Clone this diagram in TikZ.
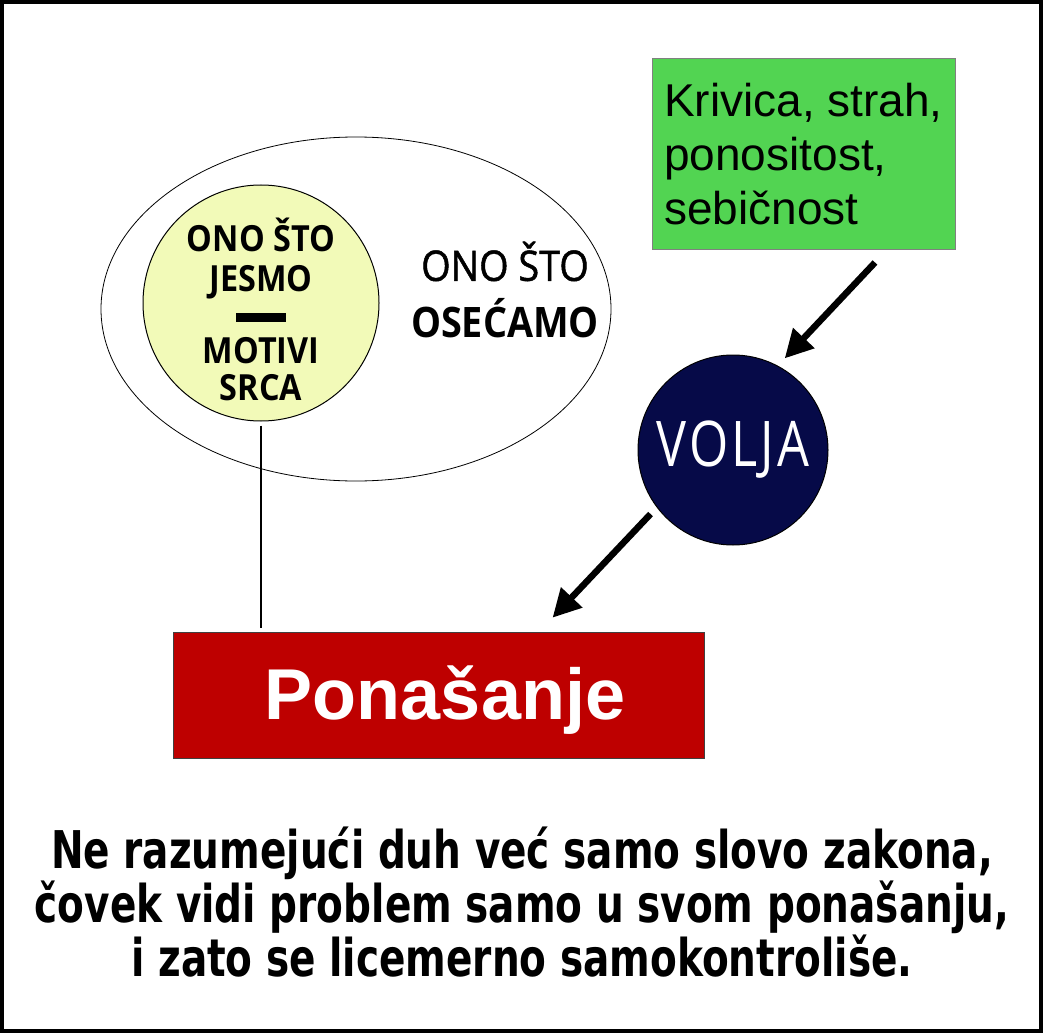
\documentclass[tikz,border=0pt]{standalone}
\usepackage{fontspec}
\setmainfont{Liberation Sans}
\newfontfamily\myriad[FakeStretch=0.9]{Open Sans}
\newfontfamily\myriadsemi[FakeStretch=0.9,FakeBold=1.2]{Open Sans}
\newfontfamily\myriadvolja[FakeStretch=0.8,LetterSpace=5]{Open Sans}
\newfontfamily\tahoma[FakeStretch=0.75]{DejaVu Sans}
\usetikzlibrary{shapes.geometric,arrows.meta}

\definecolor{zelena}{RGB}{82,212,82}
\definecolor{zuta}{RGB}{242,250,184}
\definecolor{teget}{RGB}{6,10,72}
\definecolor{crvena}{RGB}{190,0,0}

\tikzset{
  strelica/.style={line width=6.5pt, -{Triangle[length=28pt,width=28pt]}},
  okvir/.style={draw=gray, line width=1pt},
  srcetekst/.style={align=center, font=\myriad\bfseries\fontsize{36}{40}\selectfont},
}

\begin{document}
\begin{tikzpicture}[x=1pt,y=-1pt]
\useasboundingbox (0,0) rectangle (1044,1035);
\draw[line width=4pt] (2,2) rectangle (1041,1031);
% ono sto osecamo
\node[draw, ellipse, line width=0.8pt, minimum width=510pt, minimum height=344pt] (osecaji) at (356,309) {};
\node[align=center, font=\myriadsemi\fontsize{42}{57}\selectfont] (osecamo) at (505,290) {ONO ŠTO\\\myriad\bfseries OSEĆAMO};
% ono sto jesmo
\node[circle, draw, fill=zuta, line width=1pt, minimum size=236pt] (srce) at (261,303) {};
\node[srcetekst] (srcetxt) at (261,309) {ONO ŠTO\\JESMO\\[-9pt]\rule{50pt}{9pt}\\[1pt]MOTIVI\\[-3pt]SRCA};
% krivica
\node[okvir, fill=zelena, minimum width=303pt, minimum height=190pt, align=left,
  font=\fontsize{46}{54}\selectfont] (krivica) at (803.5,154) {Krivica, strah,\\ponositost,\\sebičnost};
% volja
\node[circle, draw, line width=1pt, fill=teget, minimum size=190pt, text=white,
  font=\myriadvolja\fontsize{63}{70}\selectfont] (volja) at (733,450) {VOLJA};
% ponasanje
\node[draw=darkgray, line width=1pt, fill=crvena, minimum width=531pt, minimum height=126pt] (ponasanje) at (438.5,695) {};
\node[text=white, font=\bfseries\fontsize{72}{80}\selectfont] (ponasanjetxt) at (445,700) {Ponašanje};
\draw[line width=1.5pt, shorten <=4pt, shorten >=4pt] (srce.south) -- (srce.south |- ponasanje.north);
\draw[strelica, shorten >=10pt] ([xshift=71.5pt,yshift=-13pt]krivica.south) -- (volja.62);
\draw[strelica, shorten <=9pt, shorten >=19pt] (volja.217) -- ([xshift=101pt]ponasanje.north);
% poruka
\node[align=center, font=\tahoma\bfseries\fontsize{52}{51}\selectfont] (poruka) at (522,902)
  {Ne razumejući duh već samo slovo zakona,\\čovek vidi problem samo u svom ponašanju,\\i zato se licemerno samokontroliše.};
\end{tikzpicture}
\end{document}
